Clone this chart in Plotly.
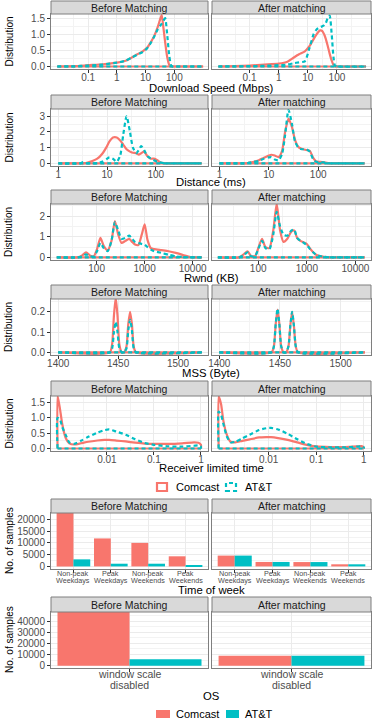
import plotly.graph_objects as go

COMCAST = "#F8766D"
ATT = "#00BFC4"
FONT = "Liberation Sans, Arial, sans-serif"

# ---- values ----
# Download speed (Mbps)
speed_x = [0.0085, 0.032, 0.1, 0.32, 1, 2, 3.2, 5, 7.9, 11.2, 15.8, 20, 26.3, 31.6,
           36.3, 41.7, 47.9, 56.2, 66.1, 75.9, 85.1, 100, 1000]
speed_before_comcast = [0, 0.01, 0.04, 0.07, 0.12, 0.18, 0.27, 0.37, 0.47, 0.58, 0.78, 0.95,
                        1.22, 1.45, 1.6, 1.2, 0.75, 0.3, 0.05, 0, 0, 0, 0]
speed_before_att = [0, 0.005, 0.03, 0.06, 0.12, 0.18, 0.27, 0.36, 0.45, 0.56, 0.76, 0.93,
                    1.15, 1.25, 1.33, 1.42, 1.5, 1.0, 0.35, 0.05, 0, 0, 0]
speed_after_comcast = [0, 0.01, 0.03, 0.06, 0.09, 0.15, 0.27, 0.38, 0.47, 0.62, 0.85, 1.0,
                       1.12, 1.1, 1.0, 0.85, 0.65, 0.4, 0.18, 0.05, 0.01, 0, 0]
speed_after_att = [0, 0.005, 0.01, 0.02, 0.04, 0.06, 0.1, 0.13, 0.16, 0.55, 1.0, 1.15,
                   1.22, 1.25, 1.28, 1.35, 1.5, 1.58, 1.0, 0.3, 0.03, 0, 0]

# Distance (ms)
dist_x = [1, 2.8, 3.2, 3.5, 4, 5, 6.3, 7.9, 10, 11.2, 13.2, 15.8, 18.6, 21.4, 25.1, 29.5,
          33.9, 39.8, 44.7, 50.1, 57.5, 67.6, 79.4, 91.2, 107, 126, 158, 200, 870]
dist_before_comcast = [0, 0, 0, 0.02, 0.05, 0.15, 0.3, 0.6, 1.1, 1.4, 1.65, 1.65, 1.45, 1.2,
                       0.9, 0.75, 0.68, 0.65, 0.55, 0.65, 0.75, 0.45, 0.3, 0.3, 0.2, 0.05, 0, 0, 0]
dist_before_att = [0, 0, 0.08, 0.02, 0, 0, 0.02, 0.1, 0.3, 0.38, 0.3, 0.1, 0.5, 1.8, 3.0,
                   2.0, 1.0, 0.65, 0.85, 1.1, 0.85, 0.45, 0.3, 0.2, 0.1, 0.05, 0, 0, 0]
dist_after_comcast = [0, 0, 0, 0, 0.05, 0.1, 0.2, 0.35, 0.5, 0.55, 0.5, 0.4, 0.8, 2.0, 2.85,
                      2.3, 1.5, 1.05, 0.95, 0.9, 0.85, 0.8, 0.35, 0.12, 0.1, 0.08, 0.02, 0, 0]
dist_after_att = [0, 0, 0, 0, 0.05, 0.1, 0.15, 0.3, 0.38, 0.4, 0.25, 0.2, 0.6, 1.8, 3.4,
                  2.5, 1.4, 1.0, 0.92, 0.9, 0.9, 0.75, 0.25, 0.1, 0.08, 0.06, 0.02, 0, 0]

# Rwnd (KB)
rwnd_x = [14.8, 39.8, 50.1, 60.3, 72.4, 87.1, 102, 120, 141, 170, 204, 240, 282, 331, 398,
          479, 550, 631, 741, 871, 1000, 1148, 1349, 1585, 2239, 3162, 4467, 6310, 8913,
          11220, 15490]
rwnd_before_comcast = [0, 0, 0.1, 0.25, 0.1, 0.05, 0.4, 0.95, 0.55, 0.35, 0.8, 1.75, 1.1, 0.7,
                       0.8, 0.9, 0.75, 0.62, 0.6, 1.1, 1.6, 0.85, 0.45, 0.4, 0.35, 0.3, 0.22,
                       0.12, 0.02, 0, 0]
rwnd_before_att = [0, 0, 0.05, 0.15, 0.05, 0.05, 0.3, 0.7, 0.45, 0.3, 0.8, 1.7, 1.3, 0.9,
                   0.95, 1.05, 0.9, 0.75, 0.7, 0.65, 0.62, 0.5, 0.38, 0.3, 0.22, 0.13, 0.05,
                   0.02, 0, 0, 0]
rwnd_after_comcast = [0, 0, 0.15, 0.3, 0.05, 0.08, 0.5, 0.9, 0.5, 0.45, 1.3, 2.6, 1.3, 0.75,
                      0.9, 1.25, 1.3, 0.95, 0.8, 0.72, 0.65, 0.45, 0.25, 0.12, 0.03, 0, 0, 0,
                      0, 0, 0]
rwnd_after_att = [0, 0, 0.1, 0.25, 0.05, 0.08, 0.45, 0.8, 0.45, 0.4, 1.1, 2.2, 1.5, 1.1, 1.05,
                  1.3, 1.35, 0.95, 0.8, 0.7, 0.6, 0.42, 0.25, 0.12, 0.03, 0, 0, 0, 0, 0, 0]

# MSS (Byte)
mss_x = [1400, 1443, 1445, 1446.5, 1448, 1449.5, 1451, 1453, 1455, 1457, 1458.5, 1460,
         1461.5, 1463, 1465, 1520]
mss_before_comcast = [0, 0, 0.04, 0.18, 0.27, 0.18, 0.04, 0, 0, 0.03, 0.14, 0.2, 0.14, 0.03, 0, 0]
mss_before_att = [0, 0, 0.02, 0.1, 0.15, 0.1, 0.02, 0, 0, 0.02, 0.11, 0.16, 0.11, 0.02, 0, 0]
mss_after_comcast = [0, 0, 0.03, 0.14, 0.21, 0.14, 0.03, 0, 0, 0.03, 0.13, 0.2, 0.13, 0.03, 0, 0]
mss_after_att = [0, 0, 0.03, 0.14, 0.215, 0.14, 0.03, 0, 0, 0.03, 0.13, 0.2, 0.13, 0.03, 0, 0]

# Receiver limited time
rlt_x = [0.00089, 0.001, 0.00112, 0.00132, 0.00158, 0.002, 0.0028, 0.004, 0.0063, 0.0089,
         0.0112, 0.0158, 0.025, 0.04, 0.063, 0.1, 0.2, 0.4, 0.71, 0.89, 1]
rlt_before_comcast = [1.72, 1.3, 0.8, 0.35, 0.17, 0.13, 0.17, 0.22, 0.26, 0.28, 0.28, 0.26,
                      0.23, 0.19, 0.16, 0.15, 0.15, 0.17, 0.2, 0.19, 0.12]
rlt_before_att = [1.0, 0.95, 0.7, 0.45, 0.2, 0.15, 0.25, 0.38, 0.52, 0.6, 0.62, 0.55, 0.45,
                  0.3, 0.18, 0.12, 0.07, 0.06, 0.09, 0.1, 0.06]
rlt_after_comcast = [1.7, 1.45, 0.9, 0.45, 0.22, 0.2, 0.25, 0.3, 0.36, 0.37, 0.37, 0.34, 0.28,
                     0.2, 0.12, 0.07, 0.05, 0.05, 0.07, 0.08, 0.03]
rlt_after_att = [1.2, 1.1, 0.8, 0.4, 0.2, 0.22, 0.33, 0.45, 0.6, 0.66, 0.67, 0.62, 0.48, 0.3,
                 0.15, 0.06, 0.04, 0.04, 0.06, 0.07, 0.03]

# Time of week (No. of samples)
tow_categories = ["Non-peak<br>Weekdays", "Peak<br>Weekdays", "Non-peak<br>Weekends",
                  "Peak<br>Weekends"]
tow_before_comcast = [22700, 11900, 10000, 4300]
tow_before_att = [3000, 1150, 1150, 500]
tow_after_comcast = [4600, 1900, 1850, 900]
tow_after_att = [4600, 1900, 1850, 900]

# OS (No. of samples)
os_categories = ["window scale<br>disabled"]
os_before_comcast = [48000]
os_before_att = [5700]
os_after_comcast = [8900]
os_after_att = [8900]

facet_labels = ["Before Matching", "After matching"]

# ---- layout in pixels ----
W, H = 374, 727
COLS = [(51, 208), (212, 371)]
# strip top, panel top, panel bottom, x-title centre
ROWS = [(1, 14, 69, 87.5), (95, 109, 166, 181.5), (190, 204, 260, 277.5),
        (285, 299, 355, 372.5), (381, 396, 451, 467.5), (499, 513, 569, 589.5),
        (597, 612, 668, 696)]


def px(x):
    return x / W


def py(y):
    return 1 - y / H


def names(k):
    s = "" if k == 1 else str(k)
    return "xaxis" + s, "yaxis" + s, "x" + s, "y" + s


ROW_SPECS = [
    dict(kind="density", title="Download Speed (Mbps)", ytitle="Distribution",
         xtype="log", xrange=[-2.29, 3.17], tickvals=[0.1, 1, 10, 100],
         ticktext=["0.1", "1", "10", "100"], minor=[0.0316, 0.316, 3.16, 31.6, 316],
         yrange=[-0.078, 1.63], dtick=0.5, ymin=0.25, fmt=".1f",
         x=speed_x, data=[(speed_before_comcast, speed_before_att),
                          (speed_after_comcast, speed_after_att)]),
    dict(kind="density", title="Distance (ms)", ytitle="Distribution",
         xtype="log", xrange=[-0.15, 3.07], tickvals=[1, 10, 100],
         ticktext=["1", "10", "100"], minor=[3.16, 31.6, 316],
         yrange=[-0.165, 3.46], dtick=1, ymin=0.5, fmt="d",
         x=dist_x, data=[(dist_before_comcast, dist_before_att),
                         (dist_after_comcast, dist_after_att)]),
    dict(kind="density", title="Rwnd (KB)", ytitle="Distribution",
         xtype="log", xrange=[1.05, 4.32], tickvals=[100, 1000, 10000],
         ticktext=["100", "1000", "10000"], minor=[31.6, 316, 3162],
         yrange=[-0.123, 2.58], dtick=1, ymin=0.5, fmt="d",
         x=rwnd_x, data=[(rwnd_before_comcast, rwnd_before_att),
                         (rwnd_after_comcast, rwnd_after_att)]),
    dict(kind="density", title="MSS (Byte)", ytitle="Distribution",
         xtype="linear", xrange=[1394, 1525], tickvals=[1400, 1450, 1500],
         ticktext=["1400", "1450", "1500"], minor=[1425, 1475],
         yrange=[-0.0125, 0.2626], dtick=0.1, ymin=0.05, fmt=".1f",
         x=mss_x, data=[(mss_before_comcast, mss_before_att),
                        (mss_after_comcast, mss_after_att)]),
    dict(kind="density", title="Receiver limited time", ytitle="Distribution",
         xtype="log", xrange=[-3.19, 0.15], tickvals=[0.01, 0.1, 1],
         ticktext=["0.01", "0.1", "1"], minor=[0.00316, 0.0316, 0.316],
         yrange=[-0.081, 1.71], dtick=0.5, ymin=0.25, fmt=".1f",
         x=rlt_x, data=[(rlt_before_comcast, rlt_before_att),
                        (rlt_after_comcast, rlt_after_att)]),
    dict(kind="bar", title="Time of week", ytitle="No. of samples",
         xrange=[-0.6, 3.6], bw=0.45, tickfont=7.2, label_y=[573.5, 580.5],
         yrange=[-1100, 22714], dtick=5000, ymin=2500, fmt="d",
         x=tow_categories, data=[(tow_before_comcast, tow_before_att),
                                 (tow_after_comcast, tow_after_att)]),
    dict(kind="bar", title="OS", ytitle="No. of samples",
         xrange=[-0.5, 0.5], bw=0.4586, tickfont=10.5, label_y=[673.5, 684.5],
         yrange=[-2060, 48060], dtick=10000, ymin=5000, fmt="d",
         x=os_categories, data=[(os_before_comcast, os_before_att),
                                (os_after_comcast, os_after_att)]),
]

fig = go.Figure()
layout = {}
shapes = []
annotations = []

tick_font = dict(family=FONT, size=10, color="#4D4D4D")

for r, spec in enumerate(ROW_SPECS):
    strip_top, top, bottom, title_y = ROWS[r]
    for c in range(2):
        k = 2 * r + c + 1
        xa, ya, xr, yr = names(k)
        x0, x1 = COLS[c]

        xaxis = dict(domain=[px(x0), px(x1)], anchor=yr, range=spec["xrange"],
                     showline=True, mirror=True, linecolor="#7F7F7F", linewidth=1,
                     showgrid=True, gridcolor="#EBEBEB", gridwidth=1, zeroline=False,
                     ticks="outside", ticklen=3, tickcolor="#333333", tickwidth=1,
                     tickangle=0, automargin=False, fixedrange=True)
        if spec["kind"] == "density":
            xaxis.update(type=spec["xtype"], tickmode="array", tickvals=spec["tickvals"],
                         ticktext=spec["ticktext"], tickfont=tick_font,
                         ticklabelstandoff=-4,
                         minor=dict(tickmode="array", tickvals=spec["minor"], showgrid=True,
                                    gridcolor="#F3F3F3", gridwidth=0.6, ticklen=0))
        else:
            # two-line category labels are set as annotations to keep ggplot's tight spacing
            xaxis.update(type="category", showticklabels=False)
            for cat in spec["x"]:
                for line, ly in zip(cat.split("<br>"), spec["label_y"]):
                    annotations.append(dict(text=line, xref=xr, yref="paper", x=cat,
                                            y=py(ly), showarrow=False, xanchor="center",
                                            yanchor="middle",
                                            font=dict(family=FONT, size=spec["tickfont"],
                                                      color="#4D4D4D")))
        layout[xa] = xaxis

        layout[ya] = dict(domain=[py(bottom), py(top)], anchor=xr, range=spec["yrange"],
                          showline=True, mirror=True, linecolor="#7F7F7F", linewidth=1,
                          showgrid=True, gridcolor="#EBEBEB", gridwidth=1, zeroline=False,
                          tickmode="linear", tick0=0, dtick=spec["dtick"],
                          tickformat=spec["fmt"], tickfont=tick_font,
                          ticks="outside" if c == 0 else "", ticklen=3,
                          tickcolor="#333333", tickwidth=1, showticklabels=(c == 0),
                          minor=dict(tick0=0, dtick=spec["ymin"], showgrid=True,
                                     gridcolor="#F3F3F3", gridwidth=0.6, ticklen=0),
                          automargin=False, fixedrange=True)

        comcast_vals, att_vals = spec["data"][c]
        if spec["kind"] == "density":
            xs = spec["x"]
            for vals, color, dash in [(comcast_vals, COMCAST, "solid"),
                                      (att_vals, ATT, "4px,3px")]:
                # baseline of the density outline
                fig.add_trace(go.Scatter(x=[xs[0], xs[-1]], y=[0, 0], mode="lines",
                                         line=dict(color=color, width=2.2, dash=dash),
                                         xaxis=xr, yaxis=yr, showlegend=False,
                                         hoverinfo="skip"))
                fig.add_trace(go.Scatter(x=[xs[0]] + xs + [xs[-1]], y=[0] + vals + [0],
                                         mode="lines",
                                         line=dict(color=color, width=2.2, dash=dash,
                                                   shape="spline", smoothing=0.6),
                                         xaxis=xr, yaxis=yr, showlegend=False,
                                         name="Comcast" if color == COMCAST else "AT&T"))
        else:
            bw = spec["bw"]
            fig.add_trace(go.Bar(x=spec["x"], y=comcast_vals, offset=-bw, width=bw,
                                 marker=dict(color=COMCAST, line=dict(width=0)),
                                 xaxis=xr, yaxis=yr, showlegend=False, name="Comcast"))
            fig.add_trace(go.Bar(x=spec["x"], y=att_vals, offset=0, width=bw,
                                 marker=dict(color=ATT, line=dict(width=0)),
                                 xaxis=xr, yaxis=yr, showlegend=False, name="AT&T"))

        # facet strip
        shapes.append(dict(type="rect", xref="paper", yref="paper",
                           x0=px(x0), x1=px(x1), y0=py(top), y1=py(strip_top),
                           fillcolor="#D9D9D9", line=dict(color="#7F7F7F", width=1),
                           layer="above"))
        annotations.append(dict(text=facet_labels[c], xref="paper", yref="paper",
                                x=px((x0 + x1) / 2), y=py((strip_top + top) / 2),
                                showarrow=False, xanchor="center", yanchor="middle",
                                font=dict(family=FONT, size=10.5, color="#1A1A1A")))

    # axis titles
    annotations.append(dict(text=spec["title"], xref="paper", yref="paper",
                            x=px((COLS[0][0] + COLS[1][1]) / 2), y=py(title_y),
                            showarrow=False, xanchor="center", yanchor="middle",
                            font=dict(family=FONT, size=11.3, color="#000000")))
    annotations.append(dict(text=spec["ytitle"], xref="paper", yref="paper",
                            x=px(9), y=py((top + bottom) / 2), textangle=-90,
                            showarrow=False, xanchor="center", yanchor="middle",
                            font=dict(family=FONT, size=10, color="#000000")))

# legend for the density rows
shapes.append(dict(type="rect", xref="paper", yref="paper", x0=px(157), x1=px(167),
                   y0=py(491), y1=py(483), line=dict(color=COMCAST, width=2.2)))
shapes.append(dict(type="rect", xref="paper", yref="paper", x0=px(226), x1=px(236),
                   y0=py(491), y1=py(483), line=dict(color=ATT, width=2.2, dash="4px,3px")))
# legend for the bar rows
shapes.append(dict(type="rect", xref="paper", yref="paper", x0=px(156), x1=px(170),
                   y0=py(718), y1=py(710), fillcolor=COMCAST, line=dict(width=0)))
shapes.append(dict(type="rect", xref="paper", yref="paper", x0=px(226), x1=px(239),
                   y0=py(718), y1=py(710), fillcolor=ATT, line=dict(width=0)))
for ly in (487, 714):
    annotations.append(dict(text="Comcast", xref="paper", yref="paper", x=px(174), y=py(ly),
                            showarrow=False, xanchor="left", yanchor="middle",
                            font=dict(family=FONT, size=11, color="#000000")))
    annotations.append(dict(text="AT&T", xref="paper", yref="paper", x=px(243), y=py(ly),
                            showarrow=False, xanchor="left", yanchor="middle",
                            font=dict(family=FONT, size=11, color="#000000")))

fig.update_layout(
    width=W, height=H, autosize=False,
    margin=dict(l=0, r=0, t=0, b=0, pad=0, autoexpand=False),
    paper_bgcolor="white", plot_bgcolor="white",
    barmode="overlay",
    font=dict(family=FONT, size=10, color="#000000"),
    shapes=shapes, annotations=annotations,
    hovermode=False,
    **layout,
)

# the page body has a default 8px margin; drop it so the figure fills the window
fig.write_html("out.html", config={"displayModeBar": False},
               post_script="document.body.style.margin='0';"
                           "document.body.style.overflow='hidden';")
